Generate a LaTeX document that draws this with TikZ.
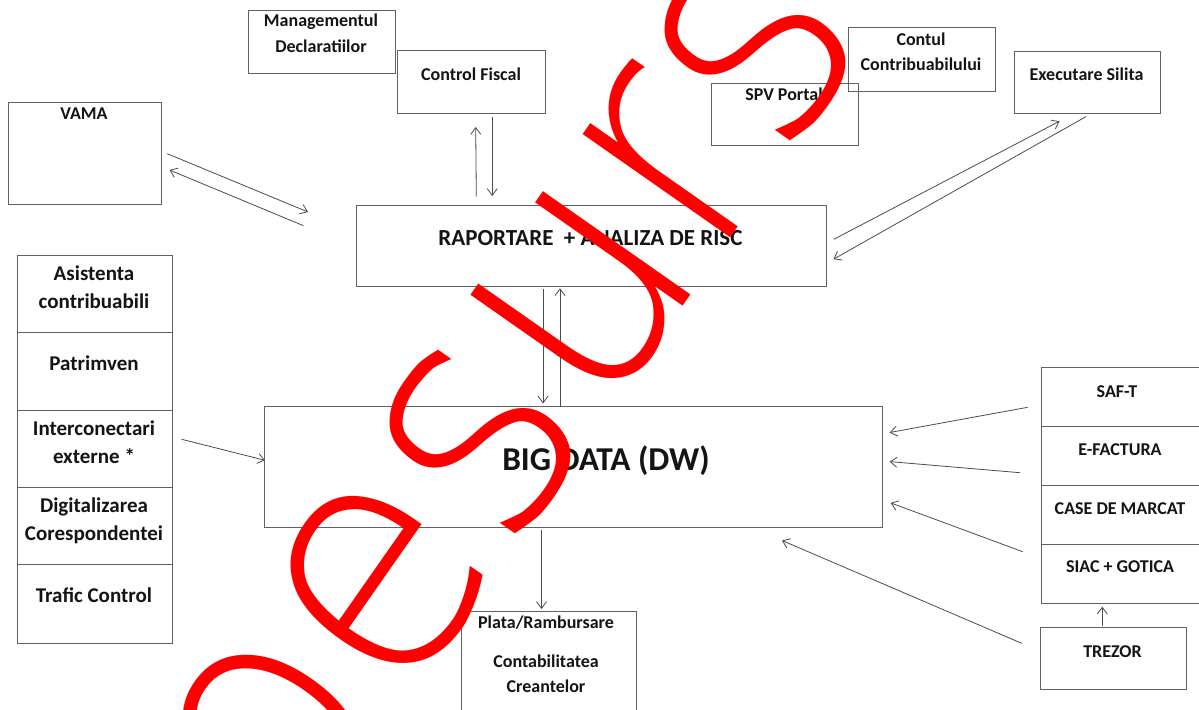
\documentclass[tikz,border=0pt]{standalone}
\usepackage{fontspec}
\setmainfont{Carlito}
\IfFontExistsTF{DejaVuSans-ExtraLight.ttf}
 {\newfontfamily\wmfont{DejaVuSans-ExtraLight.ttf}\def\wmsize{247}\def\wmxs{0.93}\def\wmx{292}\def\wmy{864.2}\def\wmtxt{oesurse}}
 {\IfFontExistsTF{DejaVu Sans ExtraLight}
   {\newfontfamily\wmfont{DejaVu Sans ExtraLight}\def\wmsize{247}\def\wmxs{0.93}\def\wmx{292}\def\wmy{864.2}\def\wmtxt{oesurse}}
   {\newfontfamily\wmfont{lmmonolt10-regular.otf}\def\wmsize{310}\def\wmxs{0.74}\def\wmx{327.7}\def\wmy{804.5}\def\wmtxt{o\kern46pt esurse}}}
\usetikzlibrary{arrows.meta}
\begin{document}
\begin{tikzpicture}[x=0.75pt,y=-0.75pt,
  box/.style={draw=black!62, line width=0.75pt, inner sep=0pt, anchor=north west},
  wh/.style 2 args={minimum width=#1*0.75pt, minimum height=#2*0.75pt},
  lbl/.style={anchor=base, inner sep=0pt, text=black!92, font=\bfseries\fontsize{13.5}{16}\selectfont},
  lbll/.style={lbl, font=\bfseries\fontsize{15.75}{19}\selectfont},
  arr/.style={draw=black!70, line width=0.6pt, -{Straight Barb[length=5pt,width=7.5pt]}},
]
\useasboundingbox (0,0) rectangle (1199,710);
\fill[white] (0,0) rectangle (1199,710);

% ---------- boxes ----------
\node[box, wh={146.5}{63.3}] (mgmt) at (248,10) {};
\node[box, wh={148}{62.7}] (cf) at (397,50) {};
\node[box, wh={152.3}{102.3}] (vama) at (8.4,101.7) {};
\node[box, wh={146.5}{63.4}] (contul) at (848,27.3) {};
\node[box, wh={146.5}{62.3}] (spv) at (711,83) {};
\node[box, wh={146.7}{62.6}] (exec) at (1013.7,50.7) {};
\node[box, wh={470}{81}] (rap) at (355.5,205) {};
\node[box, wh={618.5}{121.3}] (big) at (263.5,405.7) {};
% left column
\node[box, wh={155}{77.3}] (asist) at (16.7,255) {};
\node[box, wh={155}{77.7}] (patr) at (16.7,332.3) {};
\node[box, wh={155}{77.3}] (inter) at (16.7,410) {};
\node[box, wh={155}{77}] (digit) at (16.7,487.3) {};
\node[box, wh={155}{78.4}] (trafic) at (16.7,564.3) {};
% right column
\node[box, wh={160}{58.7}] (saft) at (1041,367.3) {};
\node[box, wh={160}{59}] (efact) at (1041,426) {};
\node[box, wh={160}{59}] (case) at (1041,485) {};
\node[box, wh={160}{59.3}] (siac) at (1041,544) {};
\node[box, wh={146}{62.6}] (trez) at (1040,626.7) {};
\node[box, wh={175}{110}] (plata) at (461,610.7) {};

% ---------- labels ----------
\node[lbl] (t1) at (321,27) {Managementul};
\node[lbl] (t2) at (321,53) {Declaratiilor};
\node[lbl] (t3) at (471,81) {Control Fiscal};
\node[lbl] (t4) at (84,119) {VAMA};
\node[lbl] (t5) at (921,45.5) {Contul};
\node[lbl] (t6) at (921,71) {Contribuabilului};
\node[lbl] (t7) at (784,100) {SPV Portal};
\node[lbl] (t8) at (1086.5,81) {Executare Silita};
\node[lbl, font=\bfseries\fontsize{17.25}{20}\selectfont] (t9) at (590.5,245) {RAPORTARE~~+ ANALIZA DE RISC};
\node[lbl, font=\bfseries\fontsize{25}{30}\selectfont] (t10) at (606,470.5) {BIG DATA (DW)};
\node[lbll] (t11) at (94,280) {Asistenta};
\node[lbll] (t12) at (94,308) {contribuabili};
\node[lbll] (t13) at (94,370.5) {Patrimven};
\node[lbll] (t14) at (94,435) {Interconectari};
\node[lbll] (t15) at (94,463) {externe *};
\node[lbll] (t16) at (94,512.5) {Digitalizarea};
\node[lbll] (t17) at (94,540.5) {Corespondentei};
\node[lbll] (t18) at (94,602.5) {Trafic Control};
\node[lbl] (t19) at (1117,397) {SAF-T};
\node[lbl] (t20) at (1120,455) {E-FACTURA};
\node[lbl] (t21) at (1120,514) {CASE DE MARCAT};
\node[lbl] (t22) at (1120,572) {SIAC + GOTICA};
\node[lbl] (t23) at (1112.5,657) {TREZOR};
\node[lbl] (t24) at (546,628) {Plata/Rambursare};
\node[lbl] (t25) at (546,667) {Contabilitatea};
\node[lbl] (t26) at (546,692) {Creantelor};

% ---------- connector ends ----------
\coordinate (a1s) at (167.2,153.7); \coordinate (a1e) at (308,212);
\coordinate (a2s) at (303.5,225.7); \coordinate (a2e) at (169.5,170);
\coordinate (a3s) at (476.3,196.7); \coordinate (a3e) at (475.7,127);
\coordinate (a4s) at (492.2,117.3); \coordinate (a4e) at (492.2,196);
\coordinate (a5s) at (833.8,239.3); \coordinate (a5e) at (1059.5,121.2);
\coordinate (a6s) at (1085.9,116.7); \coordinate (a6e) at (833.5,259.2);
\coordinate (a7s) at (543,289); \coordinate (a7e) at (543,403.5);
\coordinate (a8s) at (560,407); \coordinate (a8e) at (560,288.3);
\coordinate (a9s) at (541.5,530); \coordinate (a9e) at (541.5,609);
\coordinate (a10s) at (181.7,439.3); \coordinate (a10e) at (265,460.3);
\coordinate (a11s) at (1027.7,407.3); \coordinate (a11e) at (889.7,432.5);
\coordinate (a12s) at (1020,472.7); \coordinate (a12e) at (889.7,461.6);
\coordinate (a13s) at (1022.7,551.7); \coordinate (a13e) at (890.7,502.9);
\coordinate (a14s) at (1021.7,643.3); \coordinate (a14e) at (782,540.5);
\coordinate (a15s) at (1102.3,626); \coordinate (a15e) at (1102.3,606.7);

\draw[arr] (a1s) -- (a1e);
\draw[arr] (a2s) -- (a2e);
\draw[arr] (a3s) -- (a3e);
\draw[arr] (a4s) -- (a4e);
\draw[arr] (a5s) -- (a5e);
\draw[arr] (a6s) -- (a6e);
\draw[arr] (a7s) -- (a7e);
\draw[arr] (a8s) -- (a8e);
\draw[arr] (a9s) -- (a9e);
\draw[arr] (a10s) -- (a10e);
\draw[arr] (a11s) -- (a11e);
\draw[arr] (a12s) -- (a12e);
\draw[arr] (a13s) -- (a13e);
\draw[arr] (a14s) -- (a14e);
\draw[arr] (a15s) -- (a15e);

% ---------- red overlay word ----------
\begin{scope}[shift={(\wmx,\wmy)}]
\node[anchor=base west, inner sep=0pt, rotate=55, xscale=\wmxs, text=red,
      font=\wmfont\fontsize{\wmsize}{\wmsize}\selectfont] (wm) at (0,0) {\wmtxt};
\end{scope}
\end{tikzpicture}
\end{document}
